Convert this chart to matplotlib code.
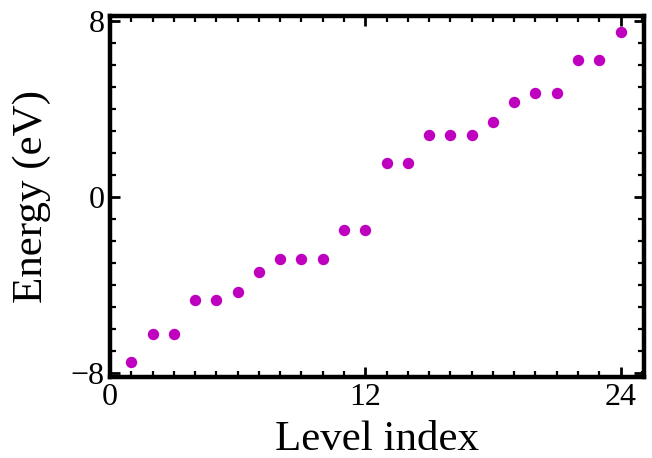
import matplotlib
matplotlib.use("Agg")
import matplotlib.pyplot as plt
from matplotlib.ticker import MultipleLocator, FixedLocator

levels = list(range(1, 25))
energies = [-7.51, -6.22, -6.22, -4.70, -4.70, -4.32, -3.41, -2.81, -2.81, -2.81,
            -1.52, -1.52, 1.52, 1.52, 2.81, 2.81, 2.81, 3.41, 4.32, 4.70, 4.70,
            6.22, 6.22, 7.51]
xticks = [0, 12, 24]
yticks = [-8, 0, 8]
ytick_labels = ["\u22128", "0", "8"]

plt.rcParams['font.family'] = ['Liberation Serif', 'DejaVu Serif']
plt.rcParams['mathtext.fontset'] = 'stix'

fig = plt.figure(figsize=(6.52, 4.58), dpi=100)
ax = fig.add_axes([0.1687, 0.1758, 0.9877 - 0.1687, 0.965 - 0.1758])

ax.plot(levels, energies, linestyle='none', marker='o', markersize=8.2,
        color='#BF00BF', markeredgewidth=0)

ax.set_xlim(0, 25.1)
ax.set_ylim(-8.22, 8.22)

ax.xaxis.set_major_locator(FixedLocator(xticks))
ax.yaxis.set_major_locator(FixedLocator(yticks))
ax.xaxis.set_minor_locator(MultipleLocator(1))
ax.yaxis.set_minor_locator(MultipleLocator(1))
ax.set_xticklabels([str(t) for t in xticks])
ax.set_yticklabels(ytick_labels)

ax.tick_params(which='both', direction='in', top=True, right=True, colors='black')
ax.tick_params(which='major', length=7, width=2.0, labelsize=23, pad=4)
ax.tick_params(which='minor', length=4, width=1.6)

for s in ax.spines.values():
    s.set_linewidth(3.2)

ax.set_xlabel('Level index', fontsize=31, labelpad=6)
ax.set_ylabel('Energy (eV)', fontsize=31, labelpad=14)

fig.savefig('out.png', dpi=100)
